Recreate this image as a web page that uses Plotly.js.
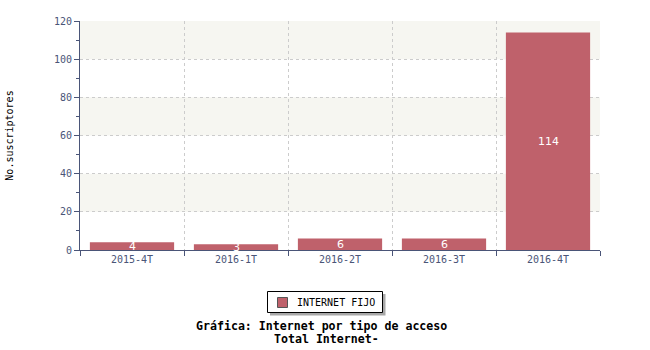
<!DOCTYPE html>
<html><head><meta charset="utf-8">
<script src="https://cdn.plot.ly/plotly-3.0.1.min.js"></script>
<style>body{margin:0;background:#fff}</style>
</head><body>
<div id="chart" style="width:650px;height:350px"></div>
<script>
const categories = ["2015-4T","2016-1T","2016-2T","2016-3T","2016-4T"];
const internetFijo = [4,3,6,6,114];
const seriesName = "INTERNET FIJO";
const yTicks = [0,20,40,60,80,100,120];
const bandStarts = [20,60,100];

const pos = categories.map((c,i)=>i);
const axisColor = "#4a5578";
const barColor = "#bf616b";
const font = "DejaVu Sans Mono, monospace";
// pixel -> paper helpers (plot area: x 80..600, y 21..250)
const px = v => (v-80)/520;
const py = v => (250-v)/229;

const shapes = bandStarts.map(b=>({type:"rect",xref:"paper",x0:0,x1:1,yref:"y",y0:b,y1:b+20,
  fillcolor:"#f6f6f1",line:{width:0},layer:"below"}));
// legend box: shadow, frame, swatch
shapes.push({type:"rect",xref:"paper",yref:"paper",x0:px(270),x1:px(385.5),y0:py(315.5),y1:py(294),
  fillcolor:"#a8a8a8",line:{width:0}});
shapes.push({type:"rect",xref:"paper",yref:"paper",x0:px(267.5),x1:px(382.5),y0:py(312.5),y1:py(291.5),
  fillcolor:"#ffffff",line:{width:1,color:"#000"}});
shapes.push({type:"rect",xref:"paper",yref:"paper",x0:px(277.5),x1:px(287.5),y0:py(307.5),y1:py(297.5),
  fillcolor:barColor,line:{width:1,color:"#555"}});

const trace = {
  type:"bar", x:pos, y:internetFijo, name:seriesName, width:0.81,
  marker:{color:barColor, line:{width:0}}, showlegend:false,
  hoverinfo:"x+y"
};

const labelAnns = internetFijo.map((v,i)=>({x:pos[i], y:v/2, xref:"x", yref:"y", showarrow:false,
  text:String(v), yanchor:"middle", font:{family:"DejaVu Sans, sans-serif", size:11, color:"#ffffff"}}));

const layout = {
  width:650, height:350,
  margin:{l:80,r:50,t:21,b:100},
  paper_bgcolor:"#ffffff", plot_bgcolor:"#ffffff",
  font:{family:font, size:10, color:"#000"},
  showlegend:false,
  xaxis:{range:[-0.5,4.5], tickvals:pos, ticktext:categories, showgrid:false, zeroline:false,
    showline:true, linecolor:axisColor, linewidth:1, ticks:"", ticklabelstandoff:0,
    tickfont:{color:axisColor,family:font,size:10}, fixedrange:true},
  xaxis2:{overlaying:"x", side:"bottom", range:[-0.5,4.5], tickvals:[-0.5,0.5,1.5,2.5,3.5,4.5],
    showticklabels:false, ticks:"outside", ticklen:5, tickcolor:axisColor, showgrid:true,
    gridcolor:"#cccccc", griddash:"dot", gridwidth:1, zeroline:false, showline:false},
  yaxis:{range:[0,120], tickvals:yTicks, showgrid:true, gridcolor:"#cccccc", griddash:"dot",
    zeroline:false, showline:true, linecolor:axisColor, ticks:"outside", ticklen:5, tickcolor:axisColor,
    minor:{dtick:10, ticks:"outside", ticklen:3, tickcolor:axisColor, showgrid:false},
    tickfont:{color:axisColor,family:font,size:10},
    title:{text:"No.suscriptores", font:{family:font,size:10,color:"#000"}, standoff:38}},
  shapes:shapes,
  annotations:labelAnns.concat([
    {xref:"paper",yref:"paper",x:px(295),xanchor:"left",y:py(302),yanchor:"middle",showarrow:false,
     text:seriesName,font:{family:font,size:10,color:"#000"}},
    {xref:"paper",yref:"paper",x:px(321),y:py(317),yanchor:"top",showarrow:false,
     text:"<b>Gráfica: Internet por tipo de acceso</b>",font:{family:font,size:11.6,color:"#000"}},
    {xref:"paper",yref:"paper",x:px(326),y:py(330),yanchor:"top",showarrow:false,
     text:"<b>Total Internet-</b>",font:{family:font,size:11.6,color:"#000"}}
  ])
};
Plotly.newPlot("chart",[trace,{type:"scatter",x:[null],y:[null],xaxis:"x2",showlegend:false,hoverinfo:"skip"}],layout,{staticPlot:true});
</script>
</body></html>
